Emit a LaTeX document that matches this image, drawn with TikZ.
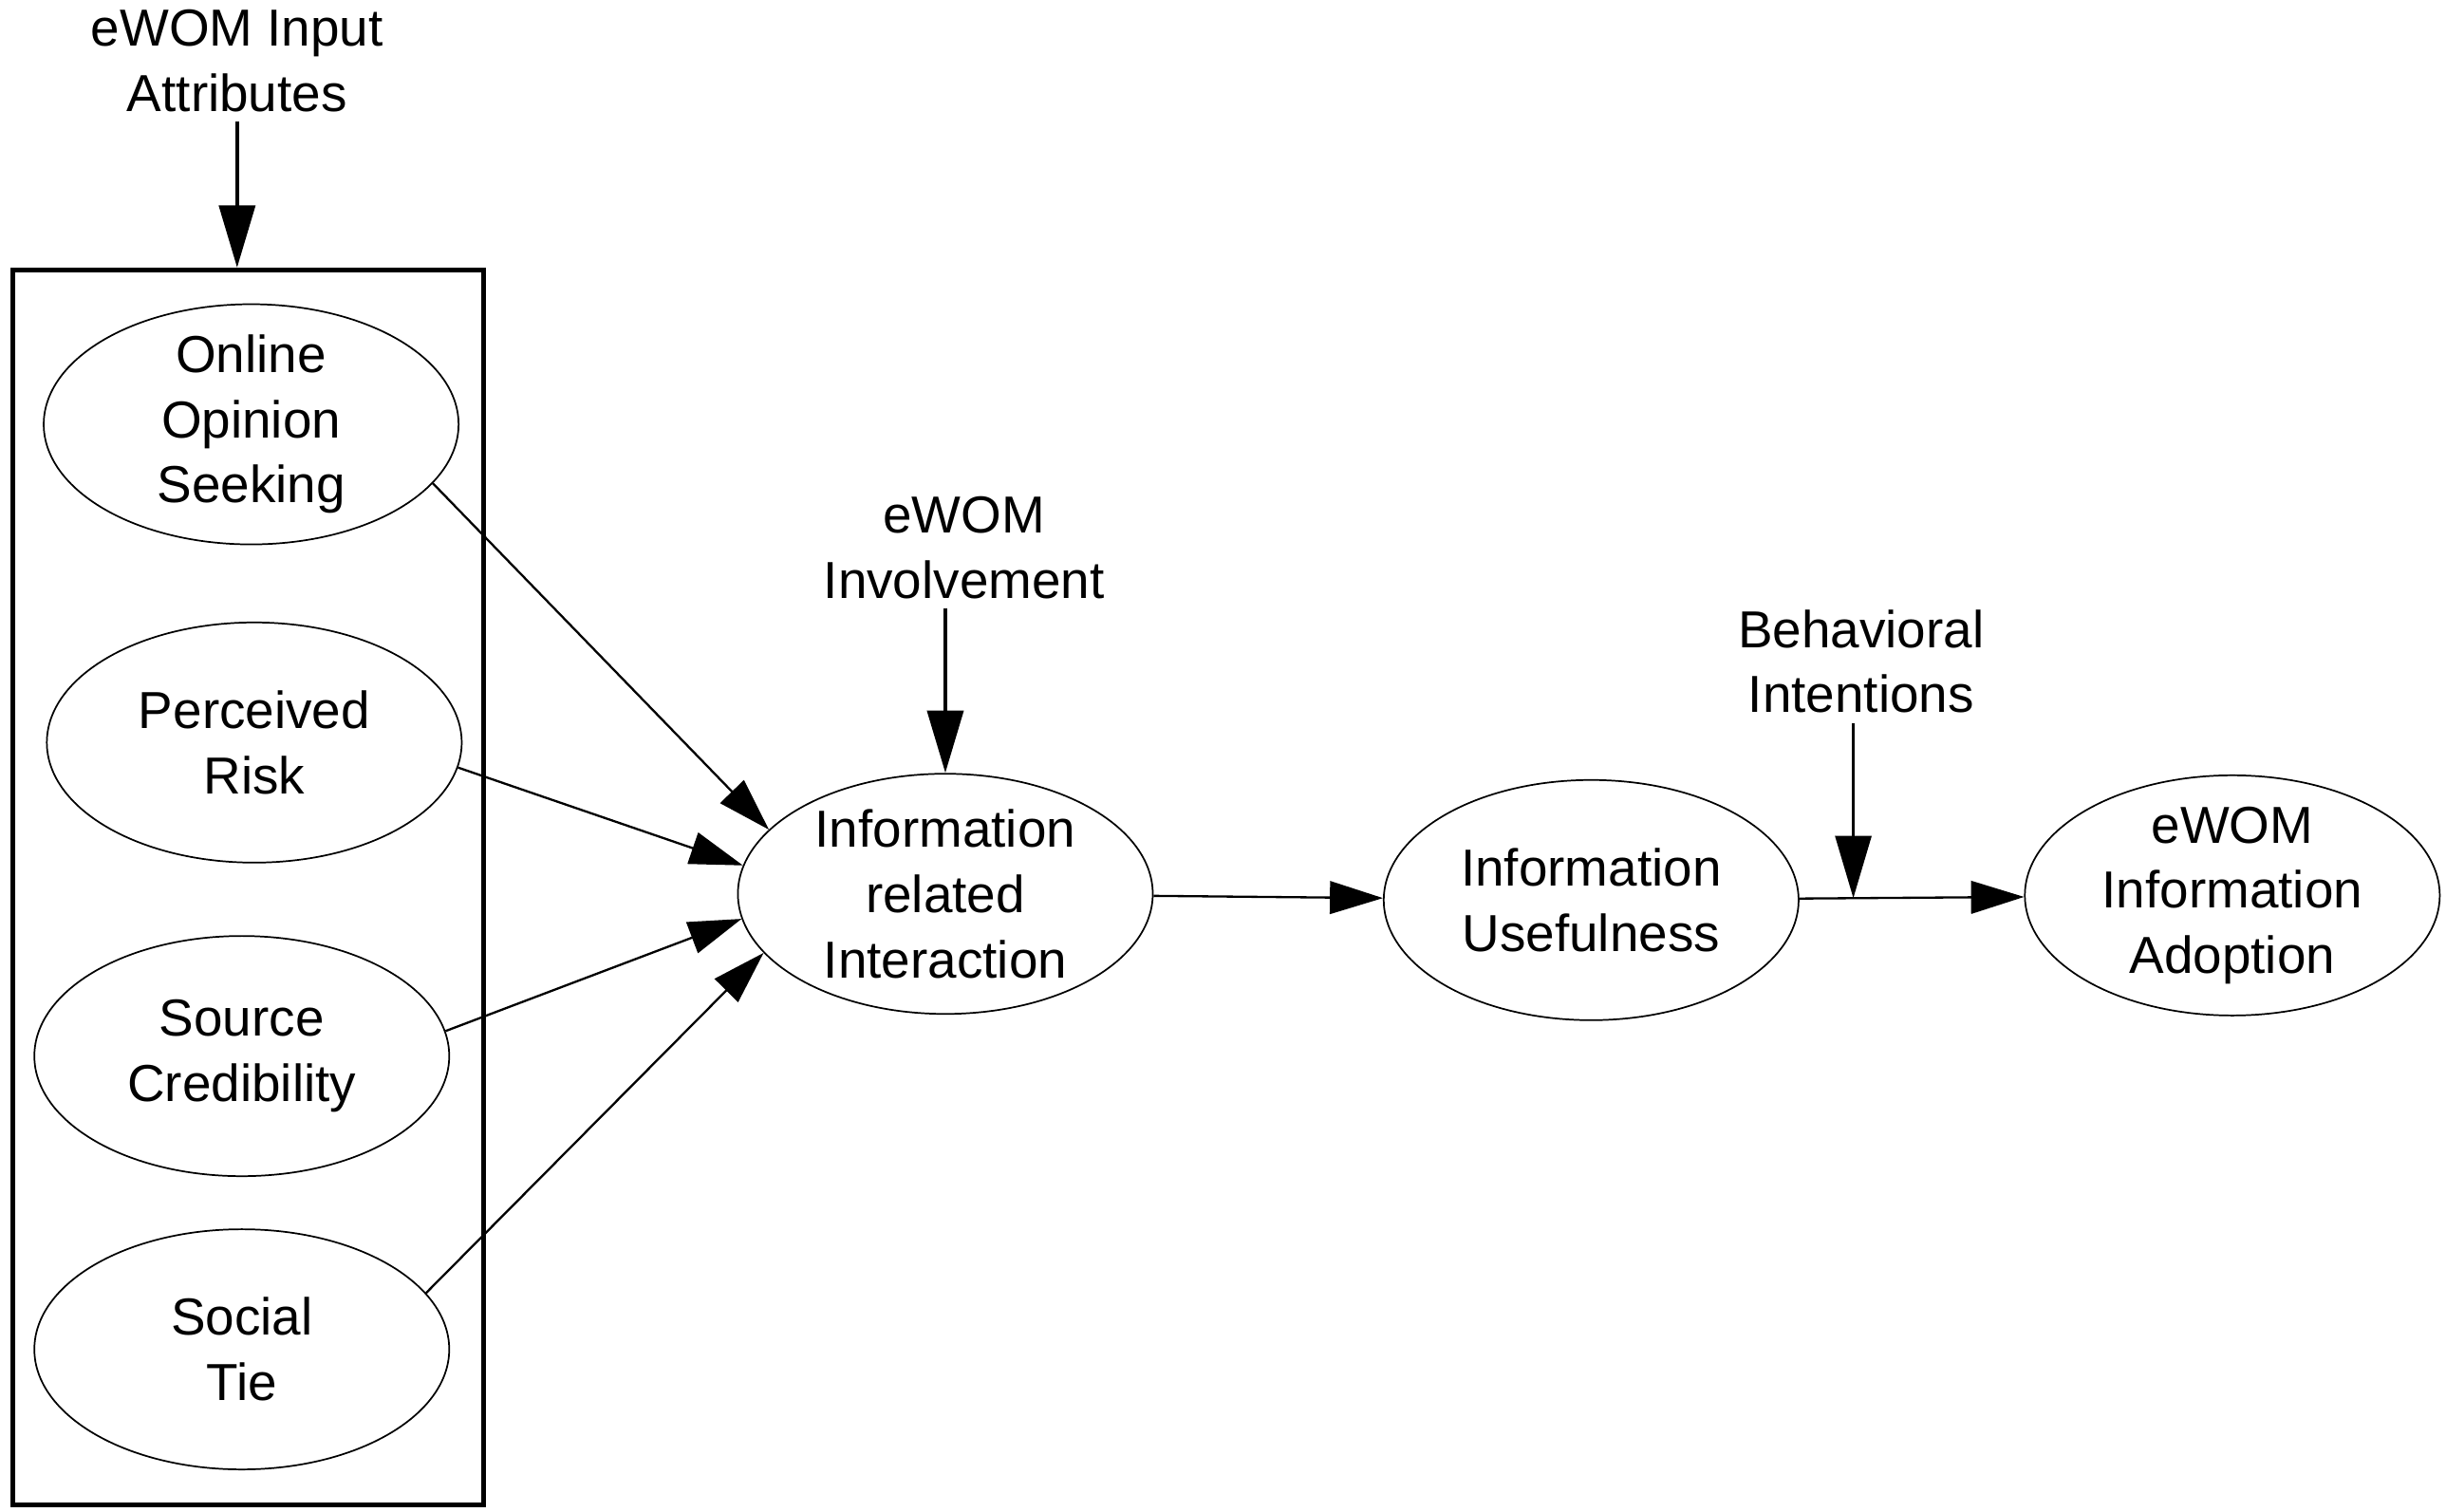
\documentclass[tikz,border=0pt]{standalone}
\usepackage{fontspec}
\setmainfont{Liberation Sans}
\usetikzlibrary{shapes.geometric}
\usetikzlibrary{arrows.meta}

\begin{document}
\begin{tikzpicture}
			[x=0.02cm, y=-0.02cm,
			 every node/.style={font=\fontsize{19pt}{23.8pt}\selectfont, align=center},
			 construct/.style={ellipse, draw, line width=0.6pt, inner xsep=0pt, inner ysep=-10pt, minimum width=5.32cm, minimum height=3.08cm},
			 link/.style={-{Triangle[length=0.68cm, width=0.42cm]}, line width=0.8pt},
			 moderator/.style={-{Triangle[length=0.8cm, width=0.46cm]}, line width=1.6pt}]
			
			\useasboundingbox (0,0) rectangle (1568,969);
			
			\node[draw, line width=1.7pt, inner sep=0pt, minimum width=6.04cm, minimum height=15.84cm] (attrbox) at (159,569) {};
			
			\node (inputattr) at (152,39) {eWOM Input\\Attributes};
			\node[construct] (seeking) at (161,272) {Online\\Opinion\\Seeking};
			\node[construct] (risk) at (163,476) {Perceived\\Risk};
			\node[construct] (cred) at (155,677) {Source\\Credibility};
			\node[construct] (tie) at (155,865) {Social\\Tie};
			\node[construct] (interact) at (606,573) {Information\\related\\Interaction};
			\node[construct] (useful) at (1020,577) {Information\\Usefulness};
			\node[construct] (adopt) at (1431,574) {eWOM\\Information\\Adoption};
			\node (involve) at (618,351) {eWOM\\Involvement};
			\node (intent) at (1193,424) {Behavioral\\Intentions};
			
			\draw[moderator] (inputattr.south) to (inputattr.south |- attrbox.north);
			\draw[link] (seeking.-18) to (interact.160);
			\draw[link] (risk.-7) to (interact.172);
			\draw[link] (cred.7) to (interact.-173);
			\draw[link] (tie.17) to (interact.-162);
			\draw[link] (interact) to (useful);
			\draw[link] (useful) to coordinate[pos=0.24] (meet) (adopt);
			\draw[moderator] (interact.north |- involve.south) to (interact.north);
			\draw[moderator, line width=1.3pt] (meet |- intent.south) to (meet);
		\end{tikzpicture}
\end{document}
